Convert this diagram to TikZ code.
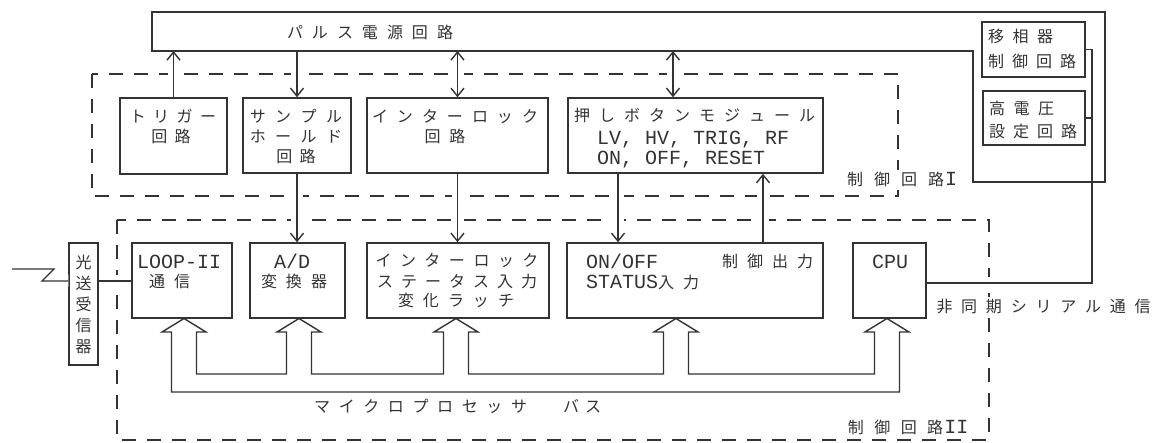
\documentclass[tikz,border=0pt]{standalone}
\usepackage{fontspec}
\newfontfamily\jp{Noto Sans CJK JP}
\newfontfamily\mn{Liberation Mono}
\usetikzlibrary{arrows.meta}
\makeatletter
\newcommand\spc[2][8.5pt]{{\let\sp@f\relax\@tfor\sp@t:=#2\do{\ifx\sp@f\relax\else\hspace{#1}\fi\let\sp@f\@empty\sp@t}}}
\makeatother
\newcommand\lat{\mn\fontsize{20}{20}\selectfont}
\newcommand\bx[5]{\node[box, minimum width={#4-#2}, minimum height={#5-#3}] (#1) at ({(#2+#4)/2},{(#3+#5)/2}) {};}
\newcommand\tx[5][]{\node[txt,#1] (#2) at (#3,#4) {#5};}
\newcommand\conns[1]{%
 \draw[cn,tipE,#1] (trig.north) -- (trig.north |- pbot);
 \draw[cn,tipE,#1] (samp.north |- pbot) -- (samp.north);
 \draw[cn,tipB,#1] (ilk.north) -- (ilk.north |- pbot);
 \draw[cn,tipB,#1] (p1) -- (p1 |- pbot);
 \draw[cn,tipE,#1] (samp.south) -- (samp.south |- ad.north);
 \draw[cn,tipE,#1] (ilk.south) -- (ilk.south |- ist.north);
 \draw[cn,tipE,#1] (p2) -- (p2 |- onoff.north);
 \draw[cn,tipE,#1] (p3 |- onoff.north) -- (p3);
 \draw[cn,#1] (c1) -| (sv) -- (phase.east);
 \draw[cn,#1] (hv.east) -- (hv.east -| sv);
 \draw[cn,#1] (o1) -- (o1 -| loop.west);
 \draw[cn,#1] (zz) -- (54,269) -- (42,281) -- (o2);
}
\begin{document}
\begin{tikzpicture}[x=1pt,y=-1pt,
  box/.style={draw=black!80, line width=1.5pt, inner sep=0pt},
  dsh/.style={draw=black!80, line width=1.3pt, dash pattern=on 14pt off 11pt},
  cn/.style={draw=black!80, line width=1.4pt},
  tipE/.style={-{Straight Barb[length=8pt,width=13pt]}},
  tipB/.style={{Straight Barb[length=8pt,width=13pt]}-{Straight Barb[length=8pt,width=13pt]}},
  halo/.style={draw=white, line width=12pt, arrows=-},
  txt/.style={inner sep=0pt, anchor=base, text=black!80, font=\jp\fontsize{16}{20}\selectfont},
  wlab/.style={fill=white, inner sep=3pt}]
\useasboundingbox (0,0) rectangle (1154,443);
% dashed enclosures
\draw[dsh] (92,74) rectangle (898,196);
\draw[dsh] (117,220) rectangle (989,440);
% boxes
\bx{trig}{120}{98}{227}{174}
\bx{samp}{243}{98}{351}{173}
\bx{ilk}{367}{98}{548}{173}
\bx{push}{568}{98}{823}{173}
\bx{phase}{982}{22}{1085}{77}
\bx{hv}{983}{91}{1085}{145}
\bx{opt}{69}{243}{98}{365}
\bx{loop}{132}{243}{232}{318}
\bx{ad}{250}{243}{345}{318}
\bx{ist}{367}{243}{549}{318}
\bx{onoff}{567}{243}{823}{318}
\bx{cpu}{853}{243}{926}{318}
% connection points
\coordinate (pbot) at (152,51);
\coordinate (sv) at (1092,49.5);
\coordinate (zz) at (12,269);
\coordinate (p1) at ([xshift=-22.5pt]push.north);
\coordinate (p2) at ([xshift=-77.5pt]push.south);
\coordinate (p3) at ([xshift=67.5pt]push.south);
\coordinate (o1) at ([yshift=23pt]opt.east);
\coordinate (o2) at ([yshift=23pt]opt.west);
\coordinate (c1) at ([yshift=-2.5pt]cpu.east);
% gaps in dashed lines
\conns{halo}
% pulse power supply outline
\draw[box] (152,12) -- (1105,12) -- (1105,182) -- (973,182) -- (973,51) -- (152,51) -- cycle;
% texts
\tx{tpulse}{370}{39}{\spc[9pt]{パルス電源回路}}
\tx{ttrigA}{173}{123}{\spc[7.5pt]{トリガー}}
\tx{ttrigB}{171}{143}{\spc[7.5pt]{回路}}
\tx{tsampA}{296}{123}{\spc[9.5pt]{サンプル}}
\tx{tsampB}{296}{143}{\spc[9.5pt]{ホールド}}
\tx{tsampC}{296}{163}{\spc[7.5pt]{回路}}
\tx{tilkA}{455}{123}{\spc[9pt]{インターロック}}
\tx{tilkB}{445}{143}{\spc[9pt]{回路}}
\tx[anchor=base west]{tpushA}{574}{122}{\spc[9pt]{押しボタンモジュール}}
\tx[anchor=base west]{tpushB}{597}{144.5}{\lat LV, HV, TRIG, RF}
\tx[anchor=base west]{tpushC}{597}{164.5}{\lat ON, OFF, RESET}
\tx[anchor=base west]{tphA}{988}{43}{\spc[8.5pt]{移相器}}
\tx[anchor=base west]{tphB}{988}{68}{\spc[8pt]{制御回路}}
\tx[anchor=base west]{thvA}{989}{115}{\spc[8.5pt]{高電圧}}
\tx[anchor=base west]{thvB}{989}{138}{\spc[8pt]{設定回路}}
\tx[wlab]{tctl1}{902}{186}{\spc[11pt]{制御回路}\hspace{1pt}{\lat I}}
\node[txt, anchor=center, align=center, font=\jp\fontsize{16}{21}\selectfont] (topt) at (83.5,304) {光\\送\\受\\信\\器};
\tx[anchor=base west]{tloopA}{137}{268.5}{\lat LOOP-II}
\tx[anchor=base west]{tloopB}{149}{288}{\spc[9pt]{通信}}
\tx{tadA}{292}{268.5}{\lat A/D}
\tx{tadB}{294}{288}{\spc[9pt]{変換器}}
\tx{tistA}{457}{267}{\spc[8.5pt]{インターロック}}
\tx{tistB}{457}{288}{\spc[8pt]{ステータス入力}}
\tx{tistC}{456}{307}{\spc[9pt]{変化ラッチ}}
\tx[anchor=base west]{tonA}{586}{268.5}{\lat ON/OFF}
\tx[anchor=base west]{tonB}{586}{288.5}{{\lat STATUS}入\hspace{9pt}力}
\tx[anchor=base west]{tonC}{722}{268}{\spc[9pt]{制御出力}}
\tx{tcpu}{890}{268.5}{\lat CPU}
\tx[wlab]{tser}{1043.5}{313}{\spc[8.75pt]{非同期シリアル通信}}
\tx[anchor=base west]{tbus}{314}{413}{\spc[8.6pt]{マイクロプロセッサ}\hspace{36pt}\spc[6pt]{バス}}
\tx{tctl2}{908}{434}{\spc[10.5pt]{制御回路}\hspace{1pt}{\lat II}}
% connectors
\conns{}
% microprocessor bus
\draw[cn] (171.5,392) -- (171.5,332) -- (162,332) -- (184,318.5) -- (206,332) -- (196.5,332) -- (196.5,374)
 -- (286.5,374) -- (286.5,332) -- (277,332) -- (299,318.5) -- (321,332) -- (311.5,332) -- (311.5,374)
 -- (443.5,374) -- (443.5,332) -- (434,332) -- (456,318.5) -- (478,332) -- (468.5,332) -- (468.5,374)
 -- (663.5,374) -- (663.5,332) -- (654,332) -- (676,318.5) -- (698,332) -- (688.5,332) -- (688.5,374)
 -- (874.5,374) -- (874.5,332) -- (865,332) -- (887,318.5) -- (909,332) -- (899.5,332) -- (899.5,392) -- cycle;
\end{tikzpicture}
\end{document}
